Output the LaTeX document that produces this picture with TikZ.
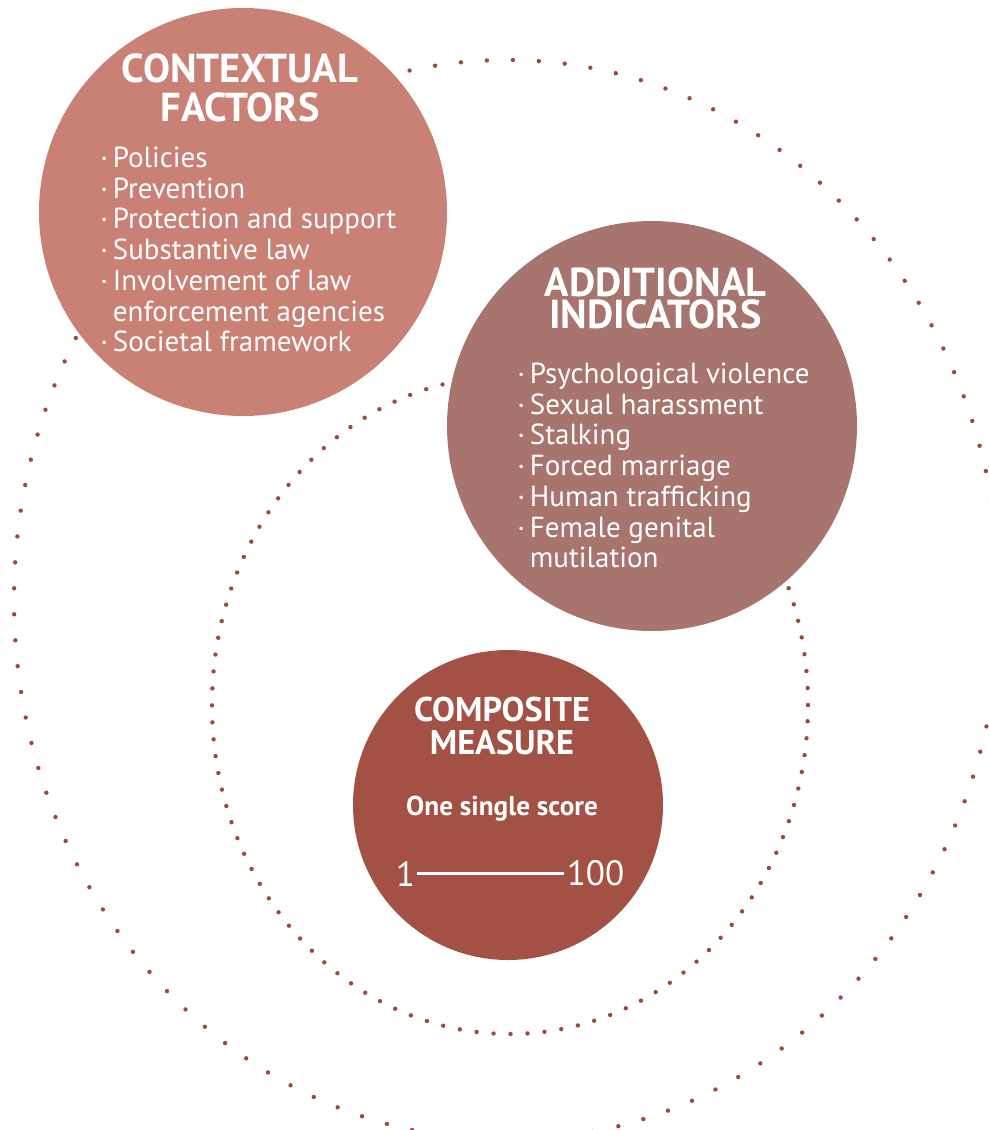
\documentclass[tikz,border=0pt]{standalone}
\usepackage{fontspec}
\setmainfont{PT Sans}
\usepackage{xcolor}
\usepackage{tikz}
\usetikzlibrary{positioning}

\definecolor{ctxred}{RGB}{201,129,118}
\definecolor{addmauve}{RGB}{167,116,110}
\definecolor{comprust}{RGB}{163,80,69}
\definecolor{dotred}{RGB}{160,72,62}

\newcommand{\bul}{·\,}

\begin{document}
\begin{tikzpicture}[
    bubble/.style={circle, inner sep=0pt},
    heading/.style={text=white, font=\fontsize{23}{22.2}\selectfont\bfseries, align=center, inner sep=0pt, anchor=north},
    itemlist/.style={text=white, font=\fontsize{16.5}{17.5}\selectfont, align=left, inner sep=0pt, anchor=north west},
    dotring/.style={dotred, line width=0.088cm, line cap=round, dash pattern=on 0pt off #1}
]
\useasboundingbox (0,0) rectangle (19.78,-22.6);

% dotted rings behind the circles
\draw[dotring=0.52cm] (10.14,-12.0) ellipse [x radius=9.86cm, y radius=10.8cm];
\draw[dotring=0.34cm] (10.2,-14.1) ellipse [x radius=5.96cm, y radius=6.58cm];

% the three circles
\node[bubble, fill=ctxred, minimum size=8.16cm] (context) at (4.86,-4.24) {};
\node[bubble, fill=addmauve, minimum size=8.2cm] (additional) at (13.04,-8.52) {};
\node[bubble, fill=comprust, minimum size=6.2cm] (composite) at (10.16,-16.1) {};

% contextual factors
\node[heading] (ctxtitle) at (4.8,-1.06) {CONTEXTUAL\\FACTORS};
\node[itemlist] (ctxlist) at (2.0,-2.93) {\bul Policies\\ \bul Prevention\\ \bul Protection and support\\ \bul Substantive law\\ \bul Involvement of law\\ \phantom{\bul}enforcement agencies\\ \bul Societal framework};

% additional indicators
\node[heading] (addtitle) at (13.11,-5.34) {ADDITIONAL\\[-4pt]INDICATORS};
\node[itemlist] (addlist) at (10.34,-7.25) {\bul Psychological violence\\ \bul Sexual harassment\\ \bul Stalking\\ \bul Forced marriage\\ \bul Human trafficking\\ \bul Female genital\\ \phantom{\bul}mutilation};

% composite measure
\node[heading, font=\fontsize{19.5}{18.8}\selectfont\bfseries] (comptitle) at (10.04,-13.94) {COMPOSITE\\MEASURE};
\node[heading, font=\fontsize{15.5}{16}\selectfont\bfseries, below=0.8cm of comptitle] (compsub) {One single score};
\node[text=white, font=\fontsize{20}{20}\selectfont, inner sep=0.04cm] (low) at (8.11,-17.47) {1};
\node[text=white, font=\fontsize{20}{20}\selectfont, inner sep=0.04cm] (high) at (11.91,-17.47) {100};
\draw[white, line width=0.06cm] (low) -- (high);
\end{tikzpicture}
\end{document}
